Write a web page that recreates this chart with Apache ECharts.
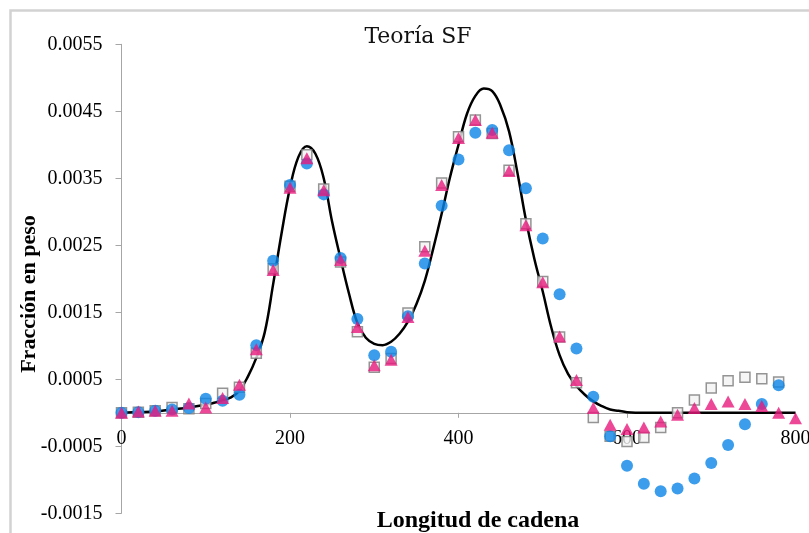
<!DOCTYPE html>
<html>
<head>
<meta charset="utf-8">
<script src="https://cdn.jsdelivr.net/npm/echarts@6/dist/echarts.min.js"></script>
<style>
html,body{margin:0;padding:0;background:#fff;}
#chart{width:809px;height:533px;}
</style>
</head>
<body>
<div id="chart"></div>
<script>
// ---- data ----
var titleText = 'Teoría SF';
var xAxisTitle = 'Longitud de cadena';
var yAxisTitle = 'Fracción en peso';

var xTickValues = [0, 200, 400, 600, 800];
var yTickValues = [-0.0015, -0.0005, 0.0005, 0.0015, 0.0025, 0.0035, 0.0045, 0.0055];

var pointX = [0, 20, 40, 60, 80, 100, 120, 140, 160, 180, 200, 220, 240, 260, 280, 300, 320, 340, 360, 380,
  400, 420, 440, 460, 480, 500, 520, 540, 560, 580, 600, 620, 640, 660, 680, 700, 720, 740, 760, 780, 800];

var circleValues = [0.00000, 0.00001, 0.00003, 0.00005, 0.00007, 0.00021, 0.00018, 0.00027, 0.00101, 0.00227,
  0.00340, 0.00372, 0.00326, 0.00231, 0.00140, 0.00086, 0.00091, 0.00144, 0.00223, 0.00309,
  0.00378, 0.00418, 0.00422, 0.00392, 0.00335, 0.00260, 0.00177, 0.00096, 0.00024, -0.00035,
  -0.00079, -0.00106, -0.00117, -0.00113, -0.00098, -0.00075, -0.00048, -0.00017, 0.00013, 0.00041];

var squareValues = [0.00000, 0.00001, 0.00003, 0.00008, 0.00006, 0.00014, 0.00029, 0.00038, 0.00089, 0.00215,
  0.00338, 0.00385, 0.00334, 0.00225, 0.00121, 0.00068, 0.00081, 0.00149, 0.00248, 0.00343,
  0.00412, 0.00437, 0.00417, 0.00362, 0.00282, 0.00196, 0.00113, 0.00045, -0.00007, -0.00035,
  -0.00043, -0.00037, -0.00022, 0.00000, 0.00019, 0.00037, 0.00048, 0.00053, 0.00051, 0.00046];

var triangleValues = [0.00000, 0.00002, 0.00003, 0.00003, 0.00014, 0.00008, 0.00022, 0.00042, 0.00095, 0.00213,
  0.00336, 0.00380, 0.00332, 0.00228, 0.00128, 0.00071, 0.00079, 0.00143, 0.00242, 0.00340,
  0.00410, 0.00437, 0.00418, 0.00361, 0.00280, 0.00195, 0.00114, 0.00049, 0.00007, -0.00018,
  -0.00024, -0.00022, -0.00013, -0.00003, 0.00007, 0.00013, 0.00017, 0.00013, 0.00010, 0.00000, -0.00008];

var curveX = [0, 20, 40, 60, 80, 100, 110, 120, 130, 140, 150, 160, 170, 180, 190, 200, 210, 220, 230, 240,
  250, 260, 270, 280, 290, 300, 310, 320, 330, 340, 350, 360, 370, 380, 390, 400, 410, 420, 430, 440,
  450, 460, 470, 480, 490, 500, 510, 520, 530, 540, 550, 560, 570, 580, 590, 600, 620, 650, 700, 750, 800];
var curveValues = [0.00000, 0.00001, 0.00002, 0.00005, 0.00008, 0.00012, 0.00015, 0.00019, 0.00023, 0.00033,
  0.00054, 0.00082, 0.00120, 0.00192, 0.00268, 0.00336, 0.00382, 0.00398, 0.00387, 0.00350,
  0.00285, 0.00230, 0.00178, 0.00134, 0.00112, 0.00103, 0.00101, 0.00106, 0.00118, 0.00136,
  0.00162, 0.00197, 0.00245, 0.00297, 0.00352, 0.00400, 0.00446, 0.00473, 0.00484, 0.00480,
  0.00458, 0.00420, 0.00358, 0.00288, 0.00230, 0.00181, 0.00128, 0.00086, 0.00058, 0.00040,
  0.00027, 0.00017, 0.00010, 0.00005, 0.00003, 0.00001, 0.00000, 0.00000, 0.00000, 0.00000, 0.00000];

function pairs(xs, ys) {
  var out = [];
  for (var i = 0; i < ys.length; i++) out.push([xs[i], ys[i]]);
  return out;
}

var chart = echarts.init(document.getElementById('chart'), null, {renderer: 'canvas'});
var serif = 'Liberation Serif';

var option = {
  backgroundColor: '#ffffff',
  animation: false,
  title: {
    text: titleText,
    left: 413, top: 21,
    textAlign: 'center',
    textStyle: {fontFamily: 'DejaVu Serif', fontWeight: 'normal', fontSize: 22, color: '#111'}
  },
  grid: {left: 121.5, right: 13.5, top: 44.3, bottom: 19.7, containLabel: false, outerBoundsMode: 'none'},
  xAxis: {
    type: 'value', min: 0, max: 800, interval: 200,
    offset: -100.5,
    axisLine: {onZero: false, lineStyle: {color: '#a6a6a6', width: 1}},
    axisTick: {show: true, inside: false, length: 5, lineStyle: {color: '#a6a6a6'}, customValues: xTickValues},
    axisLabel: {margin: 16, fontFamily: serif, fontSize: 20, color: '#000', customValues: xTickValues},
    splitLine: {show: false}
  },
  yAxis: {
    type: 'value', min: -0.0015, max: 0.0055,
    axisLine: {show: true, onZero: false, lineStyle: {color: '#a6a6a6', width: 1}},
    axisTick: {show: true, inside: false, length: 6, lineStyle: {color: '#a6a6a6'}, customValues: yTickValues},
    axisLabel: {margin: 19, fontFamily: serif, fontSize: 20, color: '#000', customValues: yTickValues,
      formatter: function (v) { return v.toFixed(4); }},
    splitLine: {show: false}
  },
  graphic: [
    {type: 'rect', shape: {x: 10.5, y: 10.5, width: 2000, height: 2000}, style: {fill: null, stroke: '#d2d2d2', lineWidth: 2.5}, z: 0},
    {type: 'text', x: 29, y: 294, rotation: Math.PI / 2,
      style: {text: yAxisTitle, fontFamily: serif, fontWeight: 'bold', fontSize: 22, fill: '#000', align: 'center', verticalAlign: 'middle'}},
    {type: 'text', x: 478, y: 521,
      style: {text: xAxisTitle, fontFamily: serif, fontWeight: 'bold', fontSize: 24, fill: '#000', align: 'center', verticalAlign: 'middle'}}
  ],
  series: [
    {
      type: 'line', name: 'Teoría', data: pairs(curveX, curveValues), smooth: 0.4, showSymbol: false,
      lineStyle: {color: '#000', width: 2.5}, z: 1, silent: true
    },
    {
      type: 'scatter', name: 'squares', data: pairs(pointX, squareValues), symbol: 'rect', symbolSize: 10,
      itemStyle: {color: '#f2f2f2', borderColor: '#7a7a7a', borderWidth: 1.5}, z: 2
    },
    {
      type: 'scatter', name: 'circles', data: pairs(pointX, circleValues), symbol: 'circle', symbolSize: 12,
      itemStyle: {color: '#0a84e6'}, z: 3
    },
    {
      type: 'scatter', name: 'triangles', data: pairs(pointX, triangleValues), symbol: 'triangle', symbolSize: [13, 12],
      itemStyle: {color: '#e8197d'}, z: 4
    }
  ]
};
chart.setOption(option);
</script>
</body>
</html>
